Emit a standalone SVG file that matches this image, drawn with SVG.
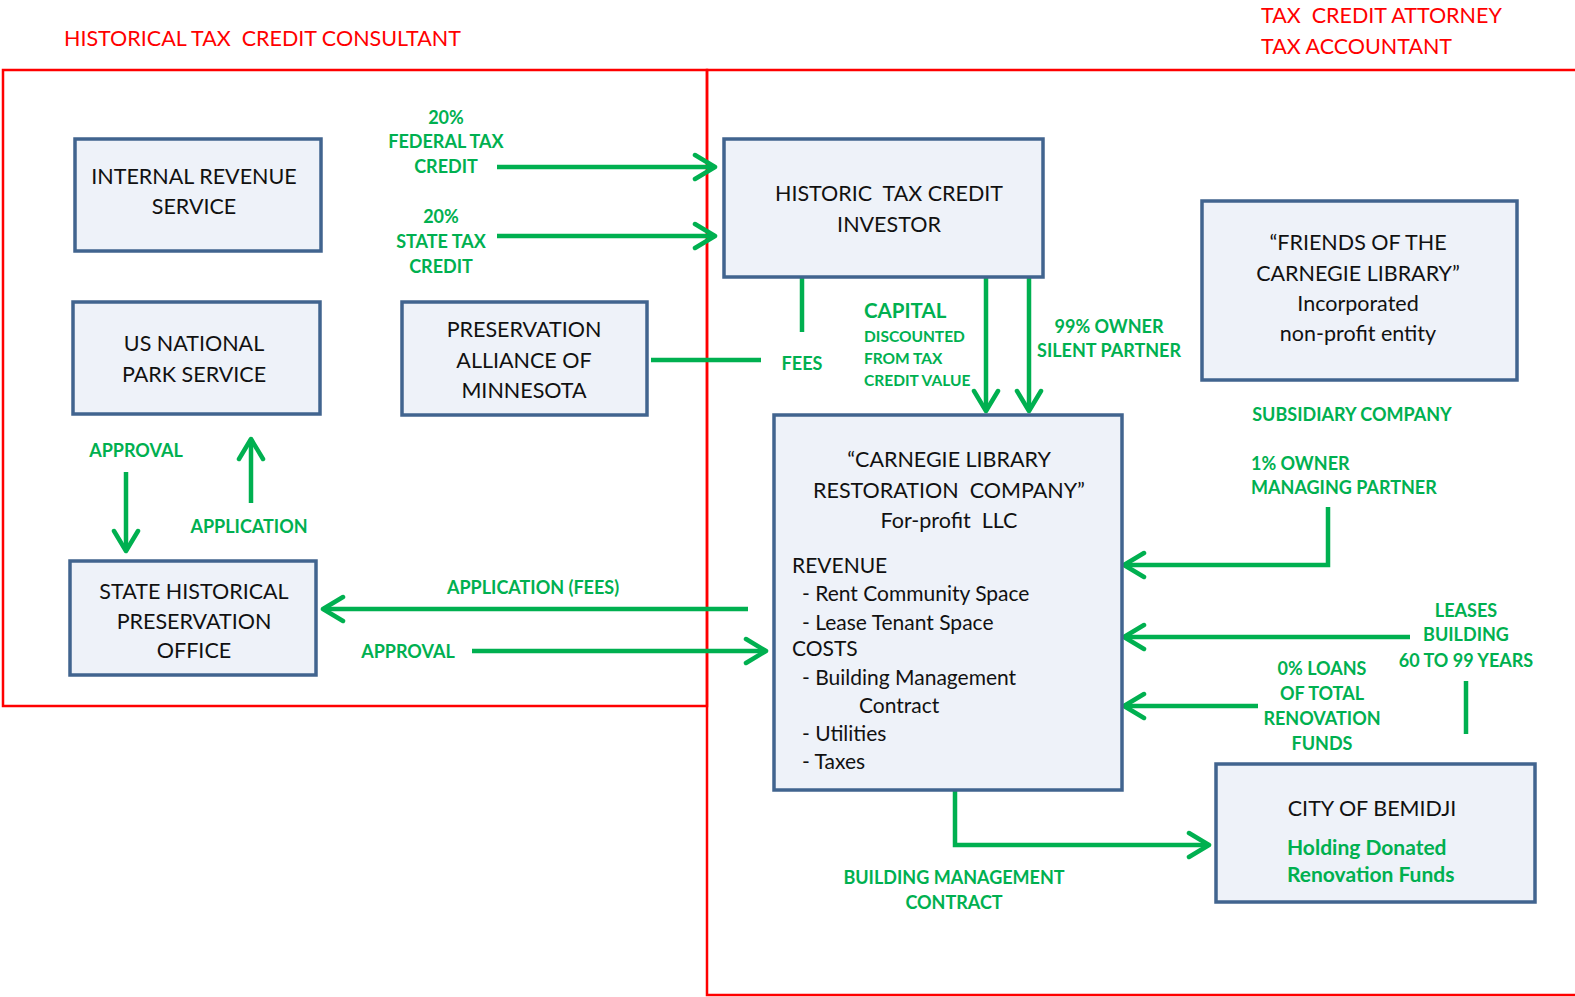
<svg xmlns="http://www.w3.org/2000/svg" width="1575" height="997" viewBox="0 0 1575 997" xml:space="preserve">
<style>
text{white-space:pre}
.box{fill:#EEF2F9;stroke:#41648F;stroke-width:3.5}
.t{font-family:Lato,"Liberation Sans",sans-serif;font-size:21.5px;fill:#111;text-anchor:middle}
.tl{font-family:Lato,"Liberation Sans",sans-serif;font-size:21px;fill:#111}
.g{font-family:Lato,"Liberation Sans",sans-serif;font-size:18px;font-weight:bold;fill:#00B050;text-anchor:middle}
.gl{font-family:Lato,"Liberation Sans",sans-serif;font-size:18px;font-weight:bold;fill:#00B050}
.r{font-family:Lato,"Liberation Sans",sans-serif;font-size:21.5px;fill:#FF0000}
.c{fill:none;stroke:#00B050;stroke-width:4.5}
.frame{fill:none;stroke:#FF0000;stroke-width:2.5}
</style>
<defs>
<marker id="ah" markerUnits="userSpaceOnUse" markerWidth="30" markerHeight="30" viewBox="-24 -15 30 30" refX="0" refY="0" orient="auto">
<path d="M-20,-12 L0,0 L-20,12" fill="none" stroke="#00B050" stroke-width="4.5" stroke-linecap="round" stroke-linejoin="round"/>
</marker>
</defs>
<rect width="1575" height="997" fill="#fff"/>
<g id="frames">
<rect class="frame" x="3" y="70" width="704" height="636"/>
<rect class="frame" x="707" y="70" width="875" height="925"/>
<text class="r" x="64" y="46">HISTORICAL TAX  CREDIT CONSULTANT</text>
<text class="r" x="1261" y="23">TAX  CREDIT ATTORNEY</text>
<text class="r" x="1261" y="54">TAX ACCOUNTANT</text>
</g>
<g id="connectors">
<line class="c" x1="497" y1="167" x2="715" y2="167" marker-end="url(#ah)"/>
<line class="c" x1="497" y1="236" x2="715" y2="236" marker-end="url(#ah)"/>
<line class="c" x1="802" y1="277" x2="802" y2="332"/>
<line class="c" x1="651" y1="360" x2="761" y2="360"/>
<line class="c" x1="986" y1="277" x2="986" y2="411" marker-end="url(#ah)"/>
<line class="c" x1="1029" y1="277" x2="1029" y2="411" marker-end="url(#ah)"/>
<polyline class="c" points="1328,507 1328,565 1124,565" marker-end="url(#ah)"/>
<line class="c" x1="1410" y1="637" x2="1124" y2="637" marker-end="url(#ah)"/>
<line class="c" x1="1466" y1="681" x2="1466" y2="734"/>
<line class="c" x1="1258" y1="706" x2="1124" y2="706" marker-end="url(#ah)"/>
<line class="c" x1="748" y1="609" x2="323" y2="609" marker-end="url(#ah)"/>
<line class="c" x1="472" y1="651" x2="766" y2="651" marker-end="url(#ah)"/>
<polyline class="c" points="955,790 955,845 1209,845" marker-end="url(#ah)"/>
<line class="c" x1="126" y1="472" x2="126" y2="551" marker-end="url(#ah)"/>
<line class="c" x1="251" y1="503" x2="251" y2="439" marker-end="url(#ah)"/>
</g>
<g id="labels">
<text class="g" x="446" y="124">20%</text>
<text class="g" x="446" y="148">FEDERAL TAX</text>
<text class="g" x="446" y="173">CREDIT</text>
<text class="g" x="441" y="223">20%</text>
<text class="g" x="441" y="248">STATE TAX</text>
<text class="g" x="441" y="273">CREDIT</text>
<text class="g" x="802" y="370">FEES</text>
<text class="gl" x="864" y="318" style="font-size:20.5px">CAPITAL</text>
<text class="gl" x="864" y="342" style="font-size:15.5px">DISCOUNTED</text>
<text class="gl" x="864" y="364" style="font-size:15.5px">FROM TAX</text>
<text class="gl" x="864" y="386" style="font-size:15.5px">CREDIT VALUE</text>
<text class="g" x="1109" y="333">99% OWNER</text>
<text class="g" x="1109" y="357">SILENT PARTNER</text>
<text class="g" x="1352" y="421">SUBSIDIARY COMPANY</text>
<text class="gl" x="1251" y="470">1% OWNER</text>
<text class="gl" x="1251" y="494">MANAGING PARTNER</text>
<text class="g" x="1466" y="617">LEASES</text>
<text class="g" x="1466" y="641">BUILDING</text>
<text class="g" x="1466" y="667">60 TO 99 YEARS</text>
<text class="g" x="1322" y="675">0% LOANS</text>
<text class="g" x="1322" y="700">OF TOTAL</text>
<text class="g" x="1322" y="725">RENOVATION</text>
<text class="g" x="1322" y="750">FUNDS</text>
<text class="g" x="136" y="457">APPROVAL</text>
<text class="g" x="249" y="533">APPLICATION</text>
<text class="g" x="533" y="594">APPLICATION (FEES)</text>
<text class="g" x="408" y="658">APPROVAL</text>
<text class="g" x="954" y="884">BUILDING MANAGEMENT</text>
<text class="g" x="954" y="909">CONTRACT</text>
</g>
<g id="irs">
<rect class="box" x="75" y="139" width="246" height="112"/>
<text class="t" x="194" y="184">INTERNAL REVENUE</text>
<text class="t" x="194" y="214">SERVICE</text>
</g>
<g id="nps">
<rect class="box" x="73" y="302" width="247" height="112"/>
<text class="t" x="194" y="351">US NATIONAL</text>
<text class="t" x="194" y="382">PARK SERVICE</text>
</g>
<g id="pam">
<rect class="box" x="402" y="302" width="245" height="113"/>
<text class="t" x="524" y="337">PRESERVATION</text>
<text class="t" x="524" y="368">ALLIANCE OF</text>
<text class="t" x="524" y="398">MINNESOTA</text>
</g>
<g id="shpo">
<rect class="box" x="70" y="561" width="246" height="114"/>
<text class="t" x="194" y="599">STATE HISTORICAL</text>
<text class="t" x="194" y="629">PRESERVATION</text>
<text class="t" x="194" y="658">OFFICE</text>
</g>
<g id="investor">
<rect class="box" x="724" y="139" width="319" height="138"/>
<text class="t" x="889" y="201">HISTORIC  TAX CREDIT</text>
<text class="t" x="889" y="232">INVESTOR</text>
</g>
<g id="friends">
<rect class="box" x="1202" y="201" width="315" height="179"/>
<text class="t" x="1358" y="250">“FRIENDS OF THE</text>
<text class="t" x="1358" y="281">CARNEGIE LIBRARY”</text>
<text class="t" x="1358" y="311">Incorporated</text>
<text class="t" x="1358" y="341">non-profit entity</text>
</g>
<g id="carnegie">
<rect class="box" x="774" y="415" width="348" height="375"/>
<text class="t" x="949" y="467">“CARNEGIE LIBRARY</text>
<text class="t" x="949" y="498">RESTORATION  COMPANY”</text>
<text class="t" x="949" y="528">For-profit  LLC</text>
<text class="tl" x="792" y="573">REVENUE</text>
<text class="tl" x="802" y="601">- Rent Community Space</text>
<text class="tl" x="802" y="630">- Lease Tenant Space</text>
<text class="tl" x="792" y="656">COSTS</text>
<text class="tl" x="802" y="685">- Building Management</text>
<text class="tl" x="859" y="713">Contract</text>
<text class="tl" x="802" y="741">- Utilities</text>
<text class="tl" x="802" y="769">- Taxes</text>
</g>
<g id="city">
<rect class="box" x="1216" y="764" width="319" height="138"/>
<text class="t" x="1372" y="816">CITY OF BEMIDJI</text>
<text class="gl" x="1287" y="855" style="font-size:21px">Holding Donated</text>
<text class="gl" x="1287" y="882" style="font-size:21px">Renovation Funds</text>
</g>
</svg>
